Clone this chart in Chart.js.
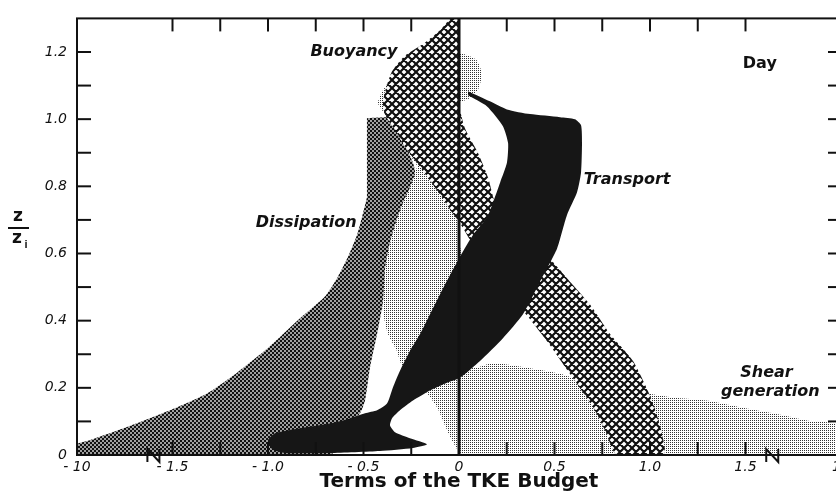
<!DOCTYPE html>
<html>
<head>
<meta charset="utf-8">
<script src="https://cdn.jsdelivr.net/npm/chart.js@4.4.1/dist/chart.umd.min.js"></script>
<style>
  html, body { margin: 0; padding: 0; background: #fff; overflow: hidden; }
  canvas { display: block; }
</style>
</head>
<body>
<canvas id="grafico" width="860" height="503"></canvas>
<script>
// outlines of each term: x = term value, y = z/zi
const shearX = [-0.204, 0.016, 0.090, 0.120, 0.100, 0.047, 0, 0, 0.110, 0.110, 0.073, 0.178, 0.356, 0.529, 0.649, 0.843, 1.120, 1.298, 1.471, 1.644, 1.822, 2.0, 2.0, 0.021, -0.037, -0.073, -0.115, -0.178, -0.283, -0.309, -0.325, -0.372, -0.398, -0.398, -0.372, -0.325, -0.293, -0.257, -0.220, -0.309, -0.372, -0.424, -0.398, -0.335];
const shearY = [1.195, 1.195, 1.177, 1.136, 1.088, 1.059, 1.047, 0.634, 0.457, 0.339, 0.260, 0.274, 0.260, 0.242, 0.221, 0.198, 0.171, 0.162, 0.142, 0.124, 0.103, 0.088, 0, 0, 0.044, 0.088, 0.142, 0.192, 0.251, 0.280, 0.310, 0.360, 0.428, 0.507, 0.605, 0.702, 0.752, 0.811, 0.861, 0.929, 1.003, 1.047, 1.086, 1.136];

const dissipationX = [-0.482, -0.346, -0.325, -0.272, -0.241, -0.230, -0.257, -0.293, -0.325, -0.361, -0.387, -0.398, -0.429, -0.466, -0.492, -0.518, -0.597, -0.675, -2.0, -2.0, -1.932, -1.738, -1.513, -1.319, -1.162, -1.005, -0.832, -0.702, -0.634, -0.581, -0.534, -0.508, -0.482];
const dissipationY = [1.003, 1.003, 0.959, 0.909, 0.870, 0.841, 0.796, 0.752, 0.702, 0.634, 0.555, 0.457, 0.360, 0.260, 0.162, 0.124, 0.074, 0, 0, 0.032, 0.044, 0.083, 0.133, 0.183, 0.245, 0.316, 0.407, 0.472, 0.531, 0.590, 0.655, 0.708, 0.767];

const buoyancyX = [0, 0, 0.031, 0.099, 0.152, 0.188, 0.267, 0.372, 0.476, 0.581, 0.686, 0.791, 0.911, 1.0, 1.052, 1.073, 0.827, 0.764, 0.702, 0.581, 0.461, 0.346, 0.215, 0.110, 0.058, 0.005, -0.037, -0.089, -0.152, -0.220, -0.272, -0.325, -0.387, -0.398, -0.387, -0.351, -0.283, -0.188, -0.099, -0.047];
const buoyancyY = [1.3, 1.047, 0.973, 0.900, 0.826, 0.752, 0.678, 0.634, 0.584, 0.516, 0.448, 0.360, 0.280, 0.177, 0.088, 0, 0, 0.074, 0.142, 0.242, 0.339, 0.422, 0.501, 0.590, 0.640, 0.690, 0.723, 0.767, 0.817, 0.870, 0.909, 0.959, 1.012, 1.047, 1.083, 1.142, 1.189, 1.224, 1.265, 1.3];

const transportX = [0.047, 0.162, 0.251, 0.372, 0.529, 0.607, 0.639, 0.644, 0.639, 0.618, 0.565, 0.513, 0.424, 0.335, 0.230, 0.110, 0.005, -0.063, -0.152, -0.241, -0.309, -0.351, -0.361, -0.335, -0.257, -0.168, -0.241, -0.414, -0.675, -0.911, -0.979, -1.0, -0.963, -0.832, -0.675, -0.571, -0.492, -0.429, -0.377, -0.346, -0.309, -0.257, -0.204, -0.152, -0.084, -0.010, 0.073, 0.147, 0.178, 0.215, 0.251, 0.257, 0.230, 0.147, 0.047];
const transportY = [1.083, 1.053, 1.029, 1.015, 1.006, 1.0, 0.982, 0.929, 0.841, 0.782, 0.714, 0.614, 0.516, 0.419, 0.348, 0.280, 0.230, 0.215, 0.192, 0.162, 0.133, 0.109, 0.088, 0.068, 0.050, 0.032, 0.021, 0.012, 0.006, 0.006, 0.018, 0.044, 0.065, 0.080, 0.094, 0.109, 0.124, 0.133, 0.153, 0.201, 0.251, 0.310, 0.360, 0.419, 0.496, 0.575, 0.655, 0.708, 0.752, 0.811, 0.870, 0.929, 0.979, 1.038, 1.071];

// axis ticks
const xTickValues = [-2, -1.5, -1, -0.5, 0, 0.5, 1, 1.5, 2];
const xTickLabels = ["- 10", "- 1.5", "- 1.0", "- 0.5", "0", "0.5", "1.0", "1.5", "10"];
const yTickValues = [0, 0.2, 0.4, 0.6, 0.8, 1.0, 1.2];
const yTickLabels = ["0", "0.2", "0.4", "0.6", "0.8", "1.0", "1.2"];
const xMinorTicks = [-1.5, -1.25, -1, -0.75, -0.5, -0.25, 0.25, 0.5, 0.75, 1, 1.25, 1.5];
const yMinorTicks = [0.1, 0.2, 0.3, 0.4, 0.5, 0.6, 0.7, 0.8, 0.9, 1.0, 1.1, 1.2];
const breakMarks = [-1.6, 1.64];

// term labels inside the plot
const noteTexts = ["Buoyancy", "Transport", "Dissipation", "Shear", "generation", "Day"];
const noteX = [-0.55, 0.88, -0.80, 1.61, 1.63, 1.575];
const noteY = [1.2, 0.82, 0.69, 0.245, 0.189, 1.165];

const FONT = "'Liberation Sans', Arial, sans-serif";
const WIDE = "'DejaVu Sans', 'Liberation Sans', sans-serif";

function pontos(xs, ys) {
  return xs.map((x, i) => ({ x: x, y: ys[i] }));
}

function padrao(size, draw) {
  const c = document.createElement("canvas");
  c.width = size;
  c.height = size;
  const g = c.getContext("2d");
  draw(g, size);
  return g.createPattern(c, "repeat");
}

const stippleDark = padrao(4, (g) => {
  g.fillStyle = "#a0a0a0";
  g.fillRect(0, 0, 4, 4);
  g.fillStyle = "#111";
  g.fillRect(0, 0, 2, 2);
  g.fillRect(2, 2, 2, 2);
});

const stippleLight = padrao(2, (g) => {
  g.fillStyle = "#fff";
  g.fillRect(0, 0, 2, 2);
  g.fillStyle = "#333";
  g.fillRect(0, 0, 1, 1);
});

const crossHatch = padrao(8, (g) => {
  g.fillStyle = "#fff";
  g.fillRect(0, 0, 8, 8);
  g.strokeStyle = "#111";
  g.lineWidth = 2.2;
  g.beginPath();
  for (const k of [-8, 0, 8]) {
    g.moveTo(k, 0); g.lineTo(k + 8, 8);
    g.moveTo(k + 8, 0); g.lineTo(k, 8);
  }
  g.stroke();
});

function banda(label, xs, ys, fundo) {
  return {
    label: label,
    data: pontos(xs, ys),
    showLine: true,
    fill: "shape",
    backgroundColor: fundo,
    borderColor: "rgba(0,0,0,0)",
    borderWidth: 0,
    pointRadius: 0,
    tension: 0.2
  };
}

function linha(ctx, x1, y1, x2, y2) {
  ctx.beginPath();
  ctx.moveTo(x1, y1);
  ctx.lineTo(x2, y2);
  ctx.stroke();
}

const decoracao = {
  id: "decoracao",
  afterDatasetsDraw(chart) {
    const ctx = chart.ctx;
    const a = chart.chartArea;
    const sx = chart.scales.x;
    const sy = chart.scales.y;
    ctx.save();
    ctx.strokeStyle = "#111";
    ctx.lineWidth = 2;
    ctx.strokeRect(a.left, a.top, a.right - a.left, a.bottom - a.top);

    const x0 = sx.getPixelForValue(0);
    ctx.lineWidth = 3;
    linha(ctx, x0, a.top, x0, a.bottom);

    ctx.lineWidth = 2;
    xMinorTicks.forEach((v) => {
      const px = sx.getPixelForValue(v);
      linha(ctx, px, a.top, px, a.top + 13);
      linha(ctx, px, a.bottom, px, a.bottom - 13);
    });
    yMinorTicks.forEach((v) => {
      const py = sy.getPixelForValue(v);
      linha(ctx, a.left, py, a.left + 14, py);
      linha(ctx, a.right, py, a.right - 13, py);
    });

    // axis break marks
    breakMarks.forEach((v) => {
      const px = sx.getPixelForValue(v);
      const py = a.bottom;
      ctx.beginPath();
      ctx.moveTo(px - 6, py + 7);
      ctx.lineTo(px - 6, py - 6);
      ctx.lineTo(px + 6, py + 7);
      ctx.lineTo(px + 6, py - 6);
      ctx.stroke();
    });

    ctx.fillStyle = "#111";
    ctx.textAlign = "center";
    ctx.textBaseline = "middle";
    noteTexts.forEach((t, i) => {
      ctx.font = (t === "Day" ? "bold " : "oblique bold ") + "16px " + WIDE;
      ctx.fillText(t, sx.getPixelForValue(noteX[i]), sy.getPixelForValue(noteY[i]));
    });

    // y axis title z / zi
    ctx.font = "bold 17px " + WIDE;
    ctx.fillText("z", 18, 217);
    linha(ctx, 8, 228, 29, 228);
    ctx.fillText("z", 17, 239);
    ctx.font = "bold 11px " + FONT;
    ctx.fillText("i", 26, 245);
    ctx.restore();
  }
};

const grafico = new Chart(document.getElementById("grafico"), {
  type: "scatter",
  data: {
    datasets: [
      banda("Transport", transportX, transportY, "#161616"),
      banda("Buoyancy", buoyancyX, buoyancyY, crossHatch),
      banda("Dissipation", dissipationX, dissipationY, stippleDark),
      banda("Shear generation", shearX, shearY, stippleLight)
    ]
  },
  options: {
    responsive: false,
    animation: false,
    events: [],
    layout: { padding: { left: 0, top: 14, right: 19, bottom: 0 } },
    plugins: {
      legend: { display: false },
      tooltip: { enabled: false }
    },
    scales: {
      x: {
        type: "linear",
        min: -2,
        max: 2,
        afterBuildTicks: (s) => { s.ticks = xTickValues.map((v) => ({ value: v })); },
        afterFit: (s) => { s.height = 48; },
        grid: { display: false, drawTicks: false },
        border: { display: false },
        ticks: {
          autoSkip: false,
          maxRotation: 0,
          minRotation: 0,
          padding: 4,
          color: "#111",
          font: { family: WIDE, size: 14, style: "oblique" },
          callback: (v) => xTickLabels[xTickValues.indexOf(v)]
        },
        title: {
          display: true,
          text: "Terms of the TKE Budget",
          color: "#111",
          font: { family: WIDE, size: 20, weight: "bold" },
          padding: { top: 0, bottom: 9 }
        }
      },
      y: {
        type: "linear",
        min: 0,
        max: 1.3,
        afterBuildTicks: (s) => { s.ticks = yTickValues.map((v) => ({ value: v })); },
        afterFit: (s) => { s.width = 77; },
        grid: { display: false, drawTicks: false },
        border: { display: false },
        ticks: {
          padding: 10,
          color: "#111",
          font: { family: WIDE, size: 14, style: "oblique" },
          callback: (v) => yTickLabels[yTickValues.indexOf(v)]
        }
      }
    }
  },
  plugins: [decoracao]
});
</script>
</body>
</html>
